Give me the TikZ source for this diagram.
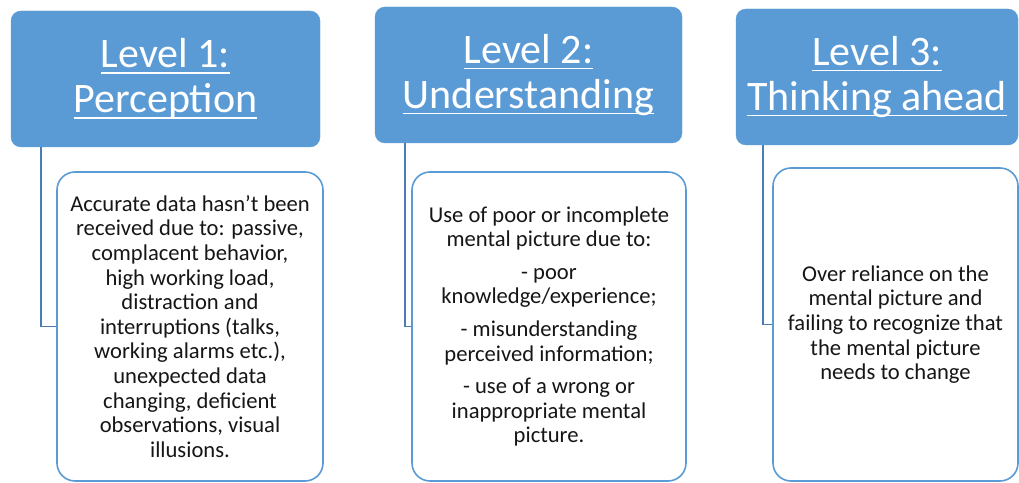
\documentclass[tikz,border=0pt]{standalone}
\usepackage{fontspec}
\setmainfont{Carlito}
\usetikzlibrary{positioning}
\definecolor{levelblue}{HTML}{5B9BD5}
\definecolor{linkblue}{HTML}{4A7DB4}
\definecolor{bodytext}{HTML}{161616}
% underline drawn a fixed depth under the baseline
\newsavebox{\ulinebox}
\newcommand{\ulword}[1]{\sbox{\ulinebox}{#1}%
  \rlap{\rule[-6pt]{\wd\ulinebox}{1.8pt}}\usebox{\ulinebox}}
\tikzset{
  level/.style={draw=levelblue, fill=levelblue, rounded corners=10pt,
    text=white, align=center, font=\fontsize{42}{45}\selectfont,
    inner sep=0pt}, % the blue header boxes
  info/.style={draw=levelblue, line width=1.6pt, fill=white,
    rounded corners=18pt, text=bodytext, align=center,
    font=\fontsize{22.6}{24.6}\selectfont, inner sep=0pt}, % the white boxes
  link/.style={draw=linkblue, line width=1.6pt}, % the elbow lines
}

\begin{document}
\begin{tikzpicture}[x=1pt,y=1pt]
    \useasboundingbox (0,0) rectangle (1019,482);

    \node[level, minimum width=309pt, minimum height=136pt] (level_1)
    at (165.5,403) {\ulword{Level 1:}\\\ulword{Perception}};
    \node[level, minimum width=307pt, minimum height=136pt] (level_2)
    at (528.5,407) {\ulword{Level 2:}\\\ulword{Understanding}};
    \node[level, minimum width=282pt, minimum height=136pt] (level_3)
    at (877,405) {\ulword{Level 3:}\\\ulword{Thinking ahead}};

    \node[info, minimum width=266pt, minimum height=309pt] (info_1)
    at (190,155.5) {Accurate data hasn’t been\\received due to: passive,\\
      complacent behavior,\\high working load,\\distraction and\\
      interruptions (talks,\\working alarms etc.),\\unexpected data\\
    changing, deficient\\observations, visual\\illusions.};
    \node[info, minimum width=274pt, minimum height=309pt] (info_2)
    at (549,155.5) {Use of poor or incomplete\\mental picture due to:\\[8pt]
      - poor\\knowledge/experience;\\[8pt]- misunderstanding\\
      perceived information;\\[8pt]- use of a wrong or\\
    inappropriate mental\\picture.};
    \node[info, minimum width=245pt, minimum height=313pt] (info_3)
    at (895.5,157.5) {Over reliance on the\\mental picture and\\
      failing to recognize that\\the mental picture\\needs to change};

    \draw[link] ([xshift=30pt]level_1.south west) |- (info_1.west);
    \draw[link] ([xshift=30pt]level_2.south west) |- (info_2.west);
    \draw[link] ([xshift=27pt]level_3.south west) |- (info_3.west);
  \end{tikzpicture}
\end{document}
